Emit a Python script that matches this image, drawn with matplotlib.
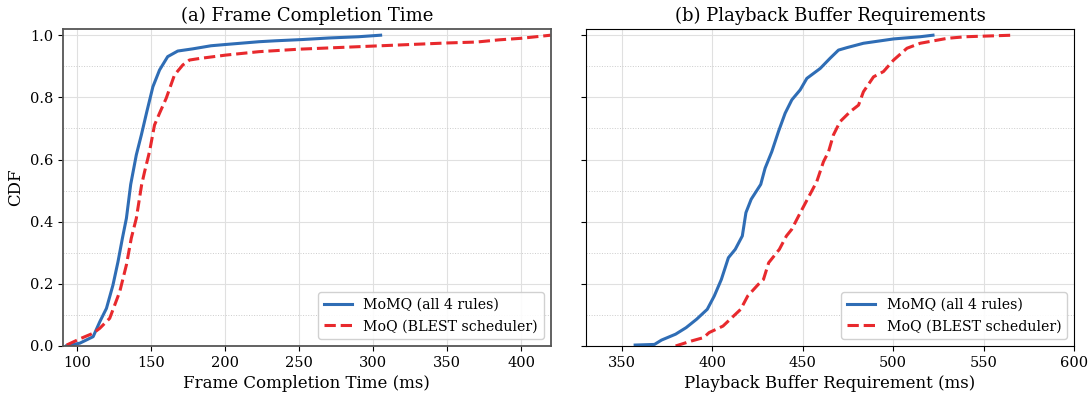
import matplotlib
matplotlib.use("Agg")
import matplotlib.pyplot as plt
from matplotlib.ticker import MultipleLocator

# CDF curves: (value in ms, cumulative fraction)
fct_momq_x = [92.7, 101.6, 110.6, 115.1, 119.6, 124.0, 127.4, 130.4, 133.1, 136.0,
              139.8, 143.2, 146.9, 151.0, 155.5, 161.0, 167.8, 177.9, 190.3, 200.0,
              222.8, 234.0, 252.0, 270.0, 290.0, 305.0]
fct_momq_y = [0.001, 0.009, 0.030, 0.078, 0.121, 0.196, 0.271, 0.347, 0.411, 0.520,
              0.615, 0.679, 0.754, 0.834, 0.888, 0.931, 0.949, 0.956, 0.966, 0.970,
              0.979, 0.982, 0.986, 0.991, 0.995, 1.000]

fct_moq_x = [92.7, 101.6, 110.6, 115.1, 121.8, 128.6, 133.1, 136.4, 139.8, 143.4,
             145.4, 148.7, 152.1, 155.5, 160.0, 165.6, 171.2, 175.7, 182.4, 200.4,
             222.8, 250.0, 300.0, 350.0, 370.0, 385.0, 400.0, 410.0, 420.0]
fct_moq_y = [0.003, 0.023, 0.041, 0.057, 0.089, 0.175, 0.261, 0.347, 0.411, 0.519,
             0.561, 0.625, 0.711, 0.749, 0.797, 0.872, 0.904, 0.920, 0.925, 0.936,
             0.947, 0.955, 0.965, 0.975, 0.978, 0.985, 0.990, 0.995, 1.000]

buf_momq_x = [357.2, 367.9, 371.8, 379.6, 385.4, 391.2, 397.1, 401.0, 404.9, 408.8,
              412.6, 416.5, 418.5, 421.4, 426.7, 429.1, 432.8, 436.5, 440.2, 443.9,
              448.5, 452.2, 459.6, 465.1, 469.7, 474.4, 483.5, 500.2, 514.9, 522.0]
buf_momq_y = [0.003, 0.005, 0.019, 0.038, 0.059, 0.086, 0.118, 0.161, 0.214, 0.284,
              0.311, 0.354, 0.429, 0.472, 0.520, 0.572, 0.625, 0.690, 0.749, 0.792,
              0.824, 0.861, 0.893, 0.926, 0.952, 0.960, 0.974, 0.988, 0.995, 1.000]

buf_moq_x = [379.6, 388.3, 395.1, 398.1, 405.8, 410.7, 415.6, 419.5, 425.3, 428.2,
             431.1, 437.0, 440.9, 443.8, 448.6, 452.5, 457.7, 461.4, 464.2, 466.9,
             470.6, 476.2, 480.8, 483.5, 489.1, 494.6, 500.2, 507.6, 514.9, 530.0,
             540.0, 566.0]
buf_moq_y = [0.000, 0.016, 0.027, 0.043, 0.064, 0.091, 0.118, 0.161, 0.198, 0.214,
             0.268, 0.311, 0.354, 0.375, 0.429, 0.472, 0.529, 0.593, 0.625, 0.679,
             0.722, 0.754, 0.775, 0.818, 0.866, 0.883, 0.920, 0.958, 0.974, 0.990,
             0.995, 1.000]

labels = ["MoMQ (all 4 rules)", "MoQ (BLEST scheduler)"]
blue = "#2f6db5"
red = "#e8292d"

plt.rcParams["font.family"] = "DejaVu Serif"

fig = plt.figure(figsize=(10.92, 3.98), dpi=100)
ax1 = fig.add_axes([0.0574, 0.1307, 0.4469, 0.7965])
ax2 = fig.add_axes([0.5366, 0.1307, 0.4469, 0.7965], sharey=ax1)

ax1.plot(fct_momq_x, fct_momq_y, color=blue, lw=2.2, label=labels[0])
ax1.plot(fct_moq_x, fct_moq_y, color=red, lw=2.2, ls="--", label=labels[1])
ax2.plot(buf_momq_x, buf_momq_y, color=blue, lw=2.2, label=labels[0])
ax2.plot(buf_moq_x, buf_moq_y, color=red, lw=2.2, ls="--", label=labels[1])

ax1.set_xlim(90, 420)
ax2.set_xlim(330, 600)
ax1.set_ylim(0, 1.02)
ax1.xaxis.set_major_locator(MultipleLocator(50))
ax2.xaxis.set_major_locator(MultipleLocator(50))
ax1.yaxis.set_major_locator(MultipleLocator(0.2))
ax1.yaxis.set_minor_locator(MultipleLocator(0.1))

ax1.set_title("(a) Frame Completion Time", fontsize=13)
ax2.set_title("(b) Playback Buffer Requirements", fontsize=13)
ax1.set_xlabel("Frame Completion Time (ms)", fontsize=12)
ax2.set_xlabel("Playback Buffer Requirement (ms)", fontsize=12)
ax1.set_ylabel("CDF", fontsize=12)

for ax in (ax1, ax2):
    ax.grid(True, which="major", color="#e0e0e0", lw=0.8)
    ax.grid(True, which="minor", axis="y", color="#cccccc", lw=0.7, ls=":")
    ax.tick_params(labelsize=10.5)
    ax.tick_params(which="minor", length=0)
    ax.legend(loc="lower right", fontsize=10.2, framealpha=0.9, edgecolor="#cccccc")

for s in ax1.spines.values():
    s.set_color("#555555")
    s.set_linewidth(1.3)
ax2.tick_params(axis="y", labelleft=False)

fig.savefig("out.png", dpi=100)
